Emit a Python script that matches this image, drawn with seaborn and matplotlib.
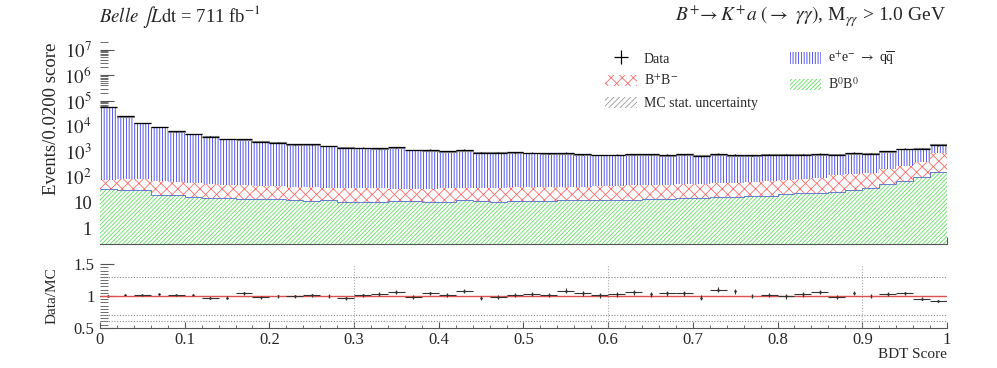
import numpy as np
import pandas as pd
import matplotlib
matplotlib.use("Agg")
import matplotlib.pyplot as plt
import seaborn as sns
from matplotlib.colors import to_rgba
from matplotlib.patches import Patch
from matplotlib.ticker import LogLocator, MultipleLocator, FuncFormatter, NullFormatter

# 50 bins of BDT score, width 0.02
bin_edges = np.linspace(0, 1, 51)
bin_centers = 0.5 * (bin_edges[:-1] + bin_edges[1:])

# stacked MC components (events / bin)
qq_events = [58800, 23900, 13100, 9050, 6100, 4950, 4015, 3190, 2900, 2465,
             2245, 1908, 1865, 1660, 1406, 1376, 1281, 1345, 1139, 1112,
             1010, 1059, 918, 896, 892, 850, 830, 810, 733, 695,
             694, 710, 726, 674, 706, 637, 701, 662, 658, 688,
             683, 676, 703, 639, 739, 700, 843, 984, 973, 1079]
bpbm_events = [44, 57, 51, 48, 45, 40, 40, 36, 35, 32,
               31, 29, 28, 27, 28, 26, 26.5, 24, 24, 25,
               26.5, 24.6, 25, 26.5, 28.7, 28.7, 28.7, 28, 30, 33,
               34, 36, 36, 36, 38, 40, 41, 45, 48, 52,
               54.5, 60, 66, 92, 100, 114, 150, 204, 305, 713]
b0b0_events = [34, 32, 32, 21, 21, 17.4, 15.1, 15.1, 14.1, 14.1,
               13.8, 12.9, 11.7, 12.3, 11.0, 11.0, 10.7, 11.7, 12.0, 10.7,
               10.7, 12.6, 12.0, 10.7, 12.0, 12.0, 12.0, 12.6, 12.9, 12.9,
               12.6, 13.2, 13.8, 13.8, 14.8, 15.1, 16.6, 16.6, 17.8, 19.1,
               21.4, 23.4, 25.1, 27.5, 31.6, 37.2, 53.7, 70.8, 102, 158]
data_events = [58900, 24360, 13330, 9350, 6230, 5060, 3920, 3160, 3070, 2460,
               2280, 1940, 1924, 1700, 1392, 1427, 1358, 1467, 1152, 1194,
               1057, 1189, 931, 919, 942, 918, 880, 923, 807, 748,
               760, 805, 795, 753, 789, 675, 835, 775, 724, 770,
               755, 778, 844, 748, 915, 851, 1078, 1309, 1322, 1794]
# bins where the ratio point has no horizontal bar in the original
no_xerr_bins = [0, 1, 3, 5, 7, 10, 13, 22, 32, 35, 37, 38, 44, 45]

components = ["qq", "bpbm", "b0b0"]
colors = {"qq": "#3a3af2", "bpbm": "#ff6a6a", "b0b0": "#5ee35e"}
hatches = {"qq": "||||||", "bpbm": "xxx", "b0b0": "////////"}

df = pd.DataFrame({
    "score": np.tile(bin_centers, 3),
    "events": qq_events + bpbm_events + b0b0_events,
    "component": np.repeat(components, len(bin_centers)),
})

sns.set_style("ticks")
plt.rcParams["font.family"] = ["Liberation Serif", "DejaVu Serif"]
plt.rcParams["mathtext.fontset"] = "stix"
plt.rcParams["hatch.linewidth"] = 0.6

fig = plt.figure(figsize=(9.97, 3.68), dpi=100)
ax = fig.add_axes([0.1003, 0.337, 0.8495, 0.549])
rax = fig.add_axes([0.1003, 0.1095, 0.8495, 0.1723])

sns.histplot(data=df, x="score", weights="events", hue="component",
             hue_order=components, binwidth=0.02, binrange=(0, 1),
             multiple="stack", palette=colors, element="bars", linewidth=0,
             alpha=1, legend=False, ax=ax)

# turn the solid bars into ROOT-like hatched fills
for cont in ax.containers:
    fc = cont.patches[0].get_facecolor()
    for comp in components:
        if np.allclose(fc, to_rgba(colors[comp]), atol=0.01):
            for p in cont.patches:
                p.set_facecolor("white")
                p.set_edgecolor(colors[comp])
                if hasattr(p, "set_hatchcolor"):
                    p.set_hatchcolor(colors[comp])
                p.set_hatch(hatches[comp])
                p.set_linewidth(0)

mc_total = np.array(qq_events) + np.array(bpbm_events) + np.array(b0b0_events)
data = np.array(data_events, dtype=float)

# B0B0 top edge
ax.stairs(b0b0_events, bin_edges, color="#5566cc", lw=0.6, baseline=None)

# MC stat. uncertainty
mc_err = np.sqrt(mc_total)
ax.bar(bin_centers, 2 * mc_err, bottom=mc_total - mc_err, width=0.02,
       facecolor="none", edgecolor="#888888", hatch="////", linewidth=0.8)

# data
data_err = ax.errorbar(bin_centers, data, xerr=0.01, yerr=np.sqrt(data),
                       fmt="none", ecolor="black", elinewidth=0.9)

ax.set_yscale("log")
ax.set_xlim(0, 1)
ax.set_ylim(0.243, 2.0e7)
ax.set_xlabel("")
ax.set_ylabel("")
ax.yaxis.set_major_locator(LogLocator(base=10, numticks=20))
ax.yaxis.set_minor_locator(LogLocator(base=10, subs=np.arange(2, 10), numticks=20))
ax.yaxis.set_minor_formatter(NullFormatter())


def log_label(v, pos):
    if v < 0.5 or v > 5e7:
        return ""
    n = int(round(np.log10(v)))
    if n == 0:
        return "1"
    if n == 1:
        return "10"
    return f"$10^{{{n}}}$"


ax.yaxis.set_major_formatter(FuncFormatter(log_label))
ax.xaxis.set_major_locator(MultipleLocator(0.1))
ax.xaxis.set_minor_locator(MultipleLocator(0.02))
ax.tick_params(axis="x", which="both", direction="in", labelbottom=False,
               color="#555555")
ax.tick_params(axis="x", which="major", length=5)
ax.tick_params(axis="x", which="minor", length=2.5)
ax.tick_params(axis="y", which="both", direction="in", color="#555555",
               labelsize=13.5, pad=6)
ax.tick_params(axis="y", which="major", length=10)
ax.tick_params(axis="y", which="minor", length=6)
for s in ["top", "right", "left"]:
    ax.spines[s].set_visible(False)
ax.spines["bottom"].set_color("#555555")

# ratio panel
ratio = data / mc_total
ratio_err = np.sqrt(data) / mc_total
xerr = np.array([0 if i in no_xerr_bins else 0.01 for i in range(len(bin_centers))])
for y in [1.3, 0.7, 0.6]:
    rax.axhline(y, color="#888888", ls=(0, (1, 1.5)), lw=0.8)
for x in [0.3, 0.6, 0.9]:
    rax.axvline(x, color="#aaaaaa", ls=(0, (1, 1.5)), lw=0.8)
rax.axhline(1.0, color="#e05050", lw=1.0)
sns.scatterplot(x=bin_centers, y=ratio, color="black", s=3, linewidth=0, ax=rax)
rax.errorbar(bin_centers, ratio, xerr=xerr, yerr=ratio_err, fmt="none",
             ecolor="#333333", elinewidth=0.8)
rax.set_xlim(0, 1)
rax.set_ylim(0.5, 1.5)
rax.set_yticks([0.5, 1.0, 1.5])
rax.yaxis.set_major_formatter(FuncFormatter(lambda v, p: f"{v:g}"))
rax.yaxis.set_minor_locator(MultipleLocator(0.05))
rax.xaxis.set_major_locator(MultipleLocator(0.1))
rax.xaxis.set_minor_locator(MultipleLocator(0.02))
rax.xaxis.set_major_formatter(FuncFormatter(lambda v, p: f"{v:g}"))
rax.tick_params(axis="both", which="both", direction="in", color="#555555",
                labelsize=12)
rax.tick_params(axis="x", which="major", length=4, pad=3)
rax.tick_params(axis="x", which="minor", length=2)
rax.tick_params(axis="y", which="major", length=10, pad=4)
rax.tick_params(axis="y", which="minor", length=6)
for s in ["top", "right", "left"]:
    rax.spines[s].set_visible(False)
rax.spines["bottom"].set_color("#555555")
rax.set_xlabel("")
rax.set_ylabel("")

# labels
fig.text(0.052, 1 - 43 / 368, "Events/0.0200 score", rotation=90,
         ha="center", va="top", fontsize=13.5)
fig.text(0.052, 1 - 296 / 368, "Data/MC", rotation=90, ha="center",
         va="center", fontsize=11)
fig.text(0.9498, 1 - 355 / 368, "BDT Score", ha="right", va="center",
         fontsize=11)
fig.text(0.099, 1 - 16 / 368,
         r"$\mathit{Belle}$ $\int\mathit{L}\mathrm{dt}$ = 711 fb$^{\mathrm{-1}}$",
         ha="left", va="center", fontsize=13.5)
fig.text(0.949, 1 - 16 / 368,
         r"$B^{+}\!\rightarrow K^{+}a\ (\rightarrow\ \gamma\gamma)$, "
         r"M$_{\gamma\gamma}$ > 1.0 GeV",
         ha="right", va="center", fontsize=14)

# legend
def hatch_patch(comp):
    return Patch(facecolor="white", edgecolor=colors[comp], hatch=hatches[comp],
                 linewidth=0)


handles = [data_err, hatch_patch("bpbm"),
           Patch(facecolor="white", edgecolor="#999999", hatch="//////", linewidth=0),
           hatch_patch("qq"), hatch_patch("b0b0")]
labels = ["Data", r"B$^{+}$B$^{-}$", "MC stat. uncertainty",
          r"e$^{+}$e$^{-}$ $\rightarrow$ q$\overline{\mathrm{q}}$",
          r"B$^{0}$B$^{0}$"]
fig.legend(handles, labels, loc="upper left", bbox_to_anchor=(0.594, 0.899),
           ncols=2, frameon=False, fontsize=10, handlelength=2.3,
           handleheight=0.9, handletextpad=0.5, columnspacing=2.3,
           labelspacing=0.6)

fig.savefig("out.png", dpi=100)
